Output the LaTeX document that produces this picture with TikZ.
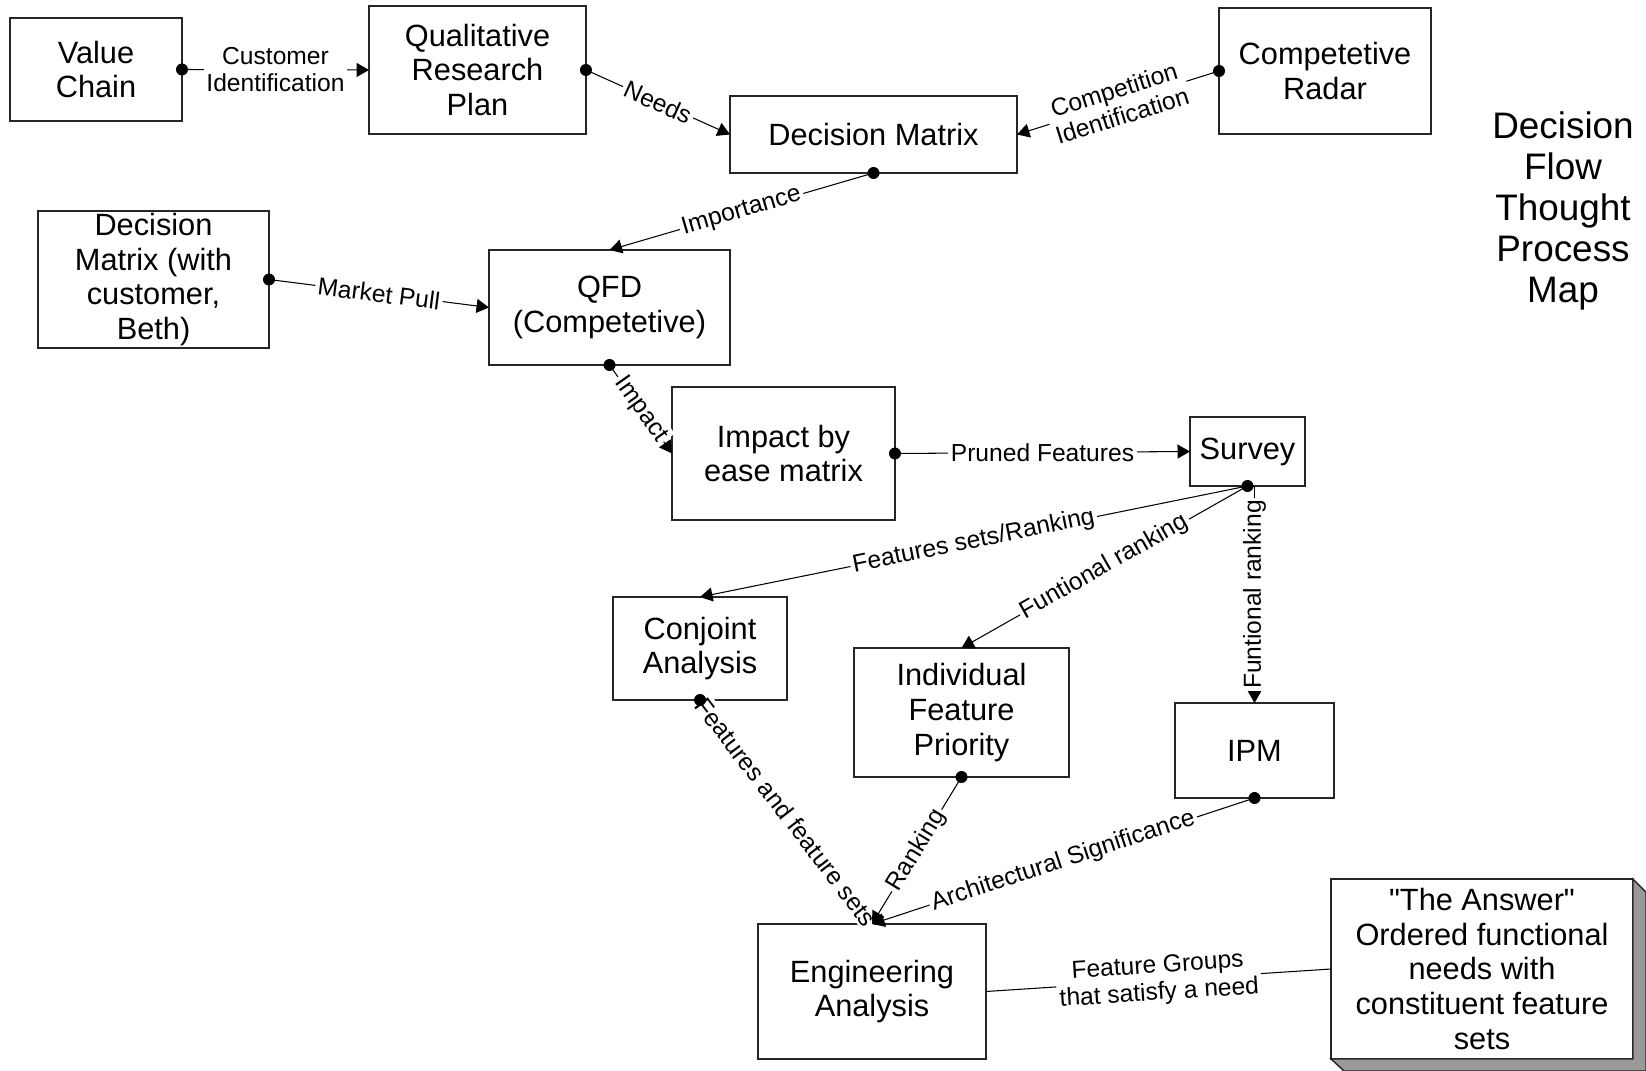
\documentclass[tikz,border=0pt]{standalone}
\usepackage{fontspec}
\setmainfont{Liberation Sans}
\usetikzlibrary{arrows.meta}

\newcommand\boxfont{\fontsize{17.5}{19.7}\selectfont}
\newcommand\tagfont{\fontsize{14}{15.5}\selectfont}
\newcommand\titlefont{\fontsize{21}{23.3}\selectfont}

\begin{document}
\begin{tikzpicture}[x=0.02cm, y=-0.02cm,
    box/.style={draw=black!85, line width=0.8pt, fill=white, inner sep=0pt, outer sep=0pt, align=center, font=\boxfont},
    link/.style={draw, line width=0.6pt},
    flow/.style={link, -{Triangle[length=0.25cm, width=0.28cm]}},
    tag/.style={fill=white, inner sep=1.5pt, align=center, font=\tagfont}]

  \useasboundingbox (0,0) rectangle (1646,1071);

  \begin{scope}[every node/.style={box}]
    \node[minimum width=3.44cm, minimum height=2.06cm] (1)  at (96,69.5)     {Value\\Chain};
    \node[minimum width=4.34cm, minimum height=2.56cm] (2)  at (477.5,70)    {Qualitative\\Research\\Plan};
    \node[minimum width=5.74cm, minimum height=1.54cm] (3)  at (873.5,134.5) {Decision Matrix};
    \node[minimum width=4.24cm, minimum height=2.52cm] (4)  at (1325,71)     {Competetive\\Radar};
    \node[minimum width=4.62cm, minimum height=2.74cm] (5)  at (153.5,279.5) {Decision\\Matrix (with\\customer,\\Beth)};
    \node[minimum width=4.82cm, minimum height=2.30cm] (6)  at (609.5,307.5) {QFD\\(Competetive)};
    \node[minimum width=4.46cm, minimum height=2.66cm] (7)  at (783.5,453.5) {Impact by\\ease matrix};
    \node[minimum width=2.30cm, minimum height=1.38cm] (8)  at (1247.5,451.5) {Survey};
    \node[minimum width=3.48cm, minimum height=2.06cm] (9)  at (700,648.5)   {Conjoint\\Analysis};
    \node[minimum width=4.30cm, minimum height=2.58cm] (10) at (961.5,712.5) {Individual\\Feature\\Priority};
    \node[minimum width=3.18cm, minimum height=1.90cm] (11) at (1254.5,750.5) {IPM};
    \node[minimum width=4.56cm, minimum height=2.70cm] (12) at (872,991.5)   {Engineering\\Analysis};
    \node[minimum width=6.04cm, minimum height=3.60cm] (13) at (1482,969)    {\textquotedbl The Answer\textquotedbl\\Ordered functional\\needs with\\constituent feature\\sets};
  \end{scope}

  % raised edge of the answer box
  \filldraw[fill=black!40, draw=black!85, line width=0.8pt]
    (13.north east) -- ([shift={(13,13)}]13.north east) -- ([shift={(13,12)}]13.south east)
    -- ([shift={(13,12)}]13.south west) -- (13.south west) -- (13.south east) -- cycle;

  \node[align=center, font=\titlefont] (14) at (1563,211) {Decision\\Flow\\Thought\\Process\\Map};

  \path (1.east)  edge[flow] node[tag] {Customer\\Identification} (2.west);
  \path (2.east)  edge[flow] node[tag, sloped] {Needs} (3.west);
  \path (4.west)  edge[flow] node[tag, sloped] {Competition\\Identification} (3.east);
  \path (3.south) edge[flow] node[tag, sloped] {Importance} (6.north);
  \path (5.east)  edge[flow] node[tag, sloped] {Market Pull} (6.west);
  \path (6.south) edge[flow] node[tag, sloped] {Impact} (7.west);
  \path (7.east)  edge[flow] node[tag] {Pruned Features} (8.west);
  \path (8.south) edge[flow] node[tag, sloped] {Features sets/Ranking} (9.north);
  \path (8.south) edge[flow] node[tag, sloped] {Funtional ranking} (10.north);
  \path (8.south -| 11.north) edge[flow] node[tag, rotate=90] {Funtional ranking} (11.north);
  \path (9.south)  edge[flow] node[tag, sloped] {Features and feature sets} (12.north);
  \path (10.south) edge[flow] node[tag, sloped] {Ranking} (12.north);
  \path (11.south) edge[flow] node[tag, sloped] {Architectural Significance} (12.north);
  \path (12.east)  edge[link] node[tag, sloped] {Feature Groups\\that satisfy a need} (13.west);

  \foreach \d in {1.east, 2.east, 3.south, 4.west, 5.east, 6.south, 7.east, 8.south, 9.south, 10.south, 11.south}
    \fill (\d) circle[radius=0.12cm];

\end{tikzpicture}
\end{document}
